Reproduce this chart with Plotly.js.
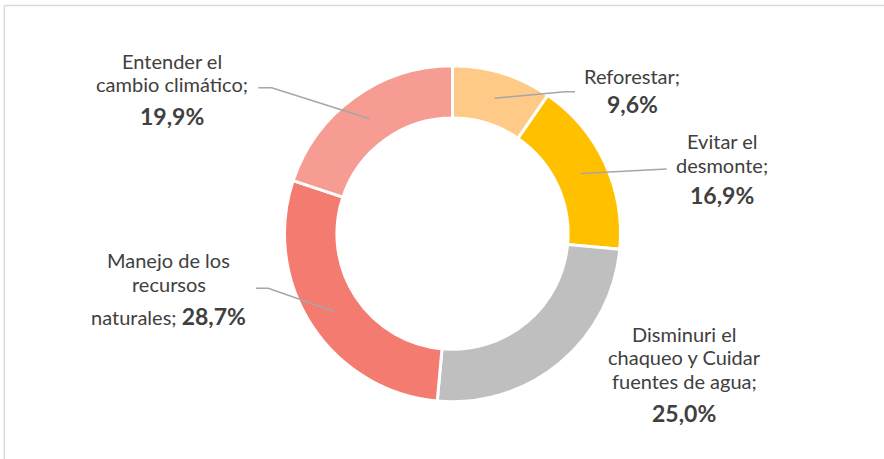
<!DOCTYPE html>
<html>
<head>
<meta charset="utf-8">
<script src="https://cdn.plot.ly/plotly-3.0.1.min.js"></script>
<style>
  html, body { margin: 0; padding: 0; background: #fff; overflow: hidden; }
</style>
</head>
<body>
<div id="chart" style="width:884px;height:459px;"></div>
<script>
// data
var labels = ['Reforestar', 'Evitar el desmonte', 'Disminuri el chaqueo y Cuidar fuentes de agua',
  'Manejo de los recursos naturales', 'Entender el cambio climático'];
var values = [9.6, 16.9, 25.0, 28.7, 19.9];
var colors = ['#FFCA87', '#FFC000', '#BFBFBF', '#F47B70', '#F69C92'];
var labelLines = [
  ['Reforestar;'],
  ['Evitar el', 'desmonte;'],
  ['Disminuri el', 'chaqueo y Cuidar', 'fuentes de agua;'],
  ['Manejo de los', 'recursos'],
  ['Entender el', 'cambio climático;']
];

var W = 884, H = 459;
var cx = 452.5, cy = 233.7, R = 168, hole = 0.688;
var FS = 20, FSB = 23, FONT = 'Lato, sans-serif', TXT = '#404040';

function px(x) { return x / W; }
function py(y) { return 1 - y / H; }
function pct(v) { return v.toFixed(1).replace('.', ',') + '%'; }

// label placement (pixels): centre x, baselines of the text lines, baseline of value line
var place = [
  {x: 632, lines: [84], vb: 113.3},
  {x: 722, lines: [148.3, 172.7], vb: 204},
  {x: 684, lines: [341.7, 365, 388.3], vb: 421.7},
  {x: 168.5, lines: [267.7, 291.7], vb: 325, prefix: 'naturales; '},
  {x: 172, lines: [68.3, 91.7], vb: 125}
];
// leader line outer points (label side)
var leaders = [
  [[575, 91.7], [565, 91.7]],
  [[666.7, 169]],
  null,
  [[256, 288.3], [268.3, 288.3]],
  [[258.3, 87.7], [271.7, 87.7]]
];

function textAnn(x, baseline, text, size) {
  return {
    x: px(x), y: py(baseline - 0.387 * size), xref: 'paper', yref: 'paper',
    xanchor: 'center', yanchor: 'middle', align: 'center', showarrow: false,
    text: text, font: {family: FONT, size: FS, color: TXT}
  };
}

var total = values.reduce(function (a, b) { return a + b; }, 0);
var rMid = R * (1 + hole) / 2;
var annotations = [], shapes = [];
var cum = 0;
values.forEach(function (v, i) {
  var ang = 2 * Math.PI * (cum + v / 2) / total;
  cum += v;
  var ax = cx + rMid * Math.sin(ang), ay = cy - rMid * Math.cos(ang);
  var p = place[i];
  labelLines[i].forEach(function (line, k) {
    annotations.push(textAnn(p.x, p.lines[k], line, FS));
  });
  var vtxt = '<b><span style="font-size:' + FSB + 'px">' + pct(v) + '</span></b>';
  annotations.push(textAnn(p.x, p.vb, (p.prefix || '') + vtxt, FSB));
  if (leaders[i]) {
    var pts = leaders[i].concat([[ax, ay]]);
    shapes.push({
      type: 'path', xref: 'paper', yref: 'paper',
      path: 'M' + pts.map(function (q) { return px(q[0]) + ',' + py(q[1]); }).join('L'),
      line: {color: '#A6A6A6', width: 1.5}
    });
  }
});

// chart frame
shapes.push({type: 'line', xref: 'paper', yref: 'paper', x0: px(4.3), x1: 1, y0: py(5.5), y1: py(5.5),
  line: {color: '#D9D9D9', width: 1.5}});
shapes.push({type: 'line', xref: 'paper', yref: 'paper', x0: px(4.3), x1: px(4.3), y0: py(5.5), y1: 0,
  line: {color: '#D9D9D9', width: 1.5}});

var trace = {
  type: 'pie',
  labels: labels,
  values: values,
  hole: hole,
  sort: false,
  direction: 'clockwise',
  rotation: 0,
  textinfo: 'none',
  hoverinfo: 'label+percent',
  marker: {colors: colors, line: {color: '#FFFFFF', width: 3}},
  domain: {x: [px(cx - R), px(cx + R)], y: [py(cy + R), py(cy - R)]},
  showlegend: false
};

var layout = {
  width: W, height: H,
  margin: {l: 0, r: 0, t: 0, b: 0},
  paper_bgcolor: '#FFFFFF',
  plot_bgcolor: '#FFFFFF',
  annotations: annotations,
  shapes: shapes
};

Plotly.newPlot('chart', [trace], layout, {displayModeBar: false});
</script>
</body>
</html>
